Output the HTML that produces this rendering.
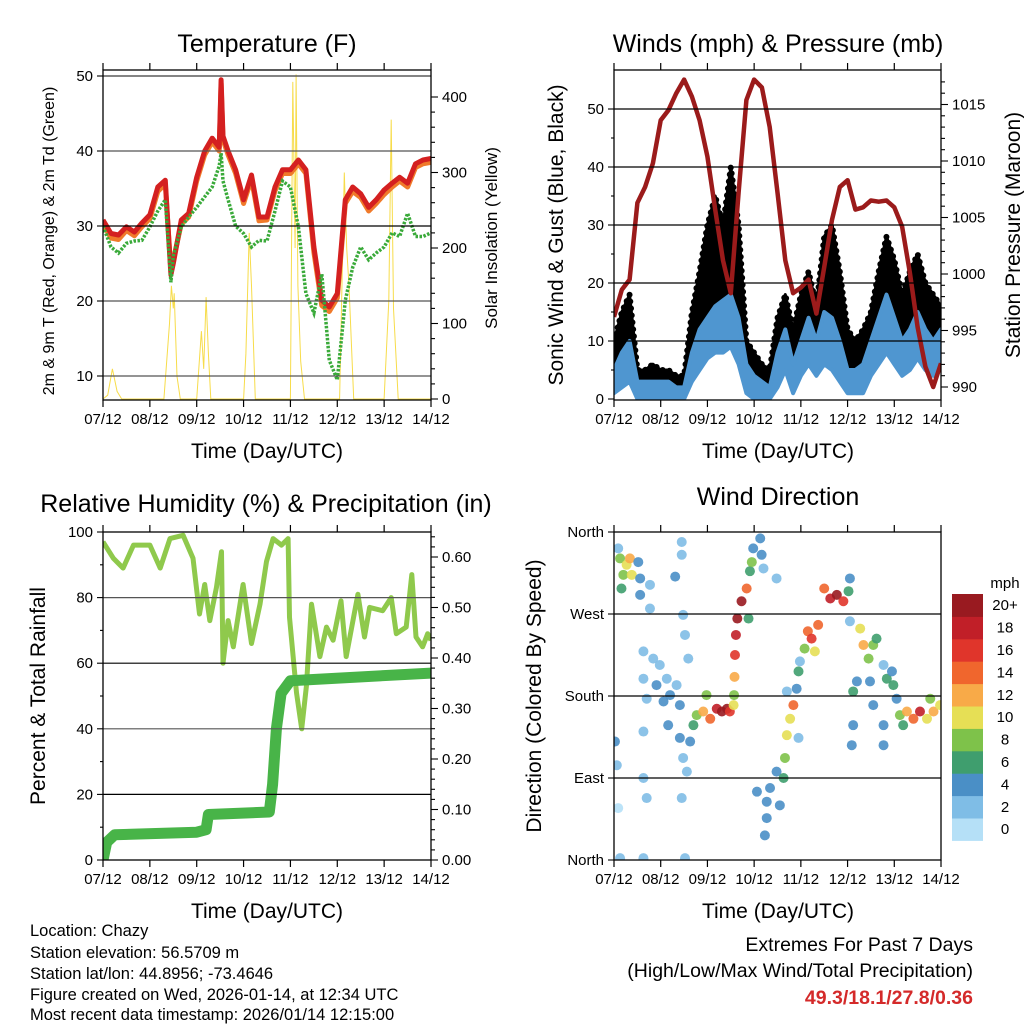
<!DOCTYPE html>
<html><head><meta charset="utf-8"><style>
html,body{margin:0;padding:0;background:#fff}
svg{display:block;font-family:"Liberation Sans",Arial,sans-serif}
</style></head><body>
<svg id="s" width="1024" height="1024" viewBox="0 0 1024 1024">
<defs>
<clipPath id="c1"><rect x="103" y="70" width="328" height="330"/></clipPath>
<clipPath id="c2"><rect x="614" y="70" width="327" height="330"/></clipPath>
<clipPath id="c3"><rect x="103" y="532" width="328" height="328"/></clipPath>
<clipPath id="c4"><rect x="614" y="532" width="327" height="328"/></clipPath>
</defs>
<g font-size="25" text-anchor="middle" fill="#000">
<text x="267" y="52">Temperature (F)</text>
<text x="778" y="52">Winds (mph) &amp; Pressure (mb)</text>
<text x="266" y="512">Relative Humidity (%) &amp; Precipitation (in)</text>
<text x="778" y="505">Wind Direction</text>
</g>
<g font-size="21" text-anchor="middle">
<text x="267" y="458">Time (Day/UTC)</text>
<text x="778" y="458">Time (Day/UTC)</text>
<text x="267" y="918">Time (Day/UTC)</text>
<text x="778" y="918">Time (Day/UTC)</text>
<text transform="translate(563,235) rotate(-90)">Sonic Wind &amp; Gust (Blue, Black)</text>
<text transform="translate(1020,235) rotate(-90)">Station Pressure (Maroon)</text>
<text transform="translate(45,696) rotate(-90)">Percent &amp; Total Rainfall</text>
<text transform="translate(541,696) rotate(-90)">Direction (Colored By Speed)</text>
</g>
<g text-anchor="middle">
<text transform="translate(54,241) rotate(-90)" font-size="16">2m &amp; 9m T (Red, Orange) &amp; 2m Td (Green)</text>
<text transform="translate(497,238) rotate(-90)" font-size="17">Solar Insolation (Yellow)</text>
</g>
<g font-size="16.5">
<text x="30" y="936">Location: Chazy</text>
<text x="30" y="958">Station elevation: 56.5709 m</text>
<text x="30" y="979">Station lat/lon: 44.8956; -73.4646</text>
<text x="30" y="1000">Figure created on Wed, 2026-01-14, at 12:34 UTC</text>
<text x="30" y="1020">Most recent data timestamp: 2026/01/14 12:15:00</text>
</g>
<g font-size="19.5" text-anchor="end">
<text x="973" y="951">Extremes For Past 7 Days</text>
<text x="973" y="977">(High/Low/Max Wind/Total Precipitation)</text>
<text x="973" y="1004" fill="#d42a2a" font-weight="bold">49.3/18.1/27.8/0.36</text>
</g>
<g id="layer"></g>
</svg>
<script>
// ---- data ----
const dayLabels = ["07/12","08/12","09/12","10/12","11/12","12/12","13/12","14/12"];
const tempT = [0,.17,.33,.5,.67,.83,1,1.17,1.33,1.45,1.5,1.67,1.83,2,2.17,2.33,2.48,2.52,2.56,2.67,2.83,3,3.17,3.33,3.5,3.67,3.83,4,4.17,4.33,4.5,4.67,4.83,5,5.17,5.33,5.5,5.67,5.83,6,6.17,6.33,6.5,6.67,6.83,7];
const temp2m = [30.8,29,28.8,29.9,29.2,30.4,31.5,35.2,36.1,23.5,25,30.8,31.7,36.5,40,41.7,40.5,49.5,42,40,37.5,33.5,36.8,31.2,31.2,35.2,37.5,37.5,38.8,37.5,27.2,20.1,19.2,21,33.5,35.2,34.3,32.5,33.5,34.8,35.7,36.5,35.7,38.3,38.8,39];
const temp9m = [30.3,28.4,28.2,29.4,28.7,29.9,31,34.6,35.6,24,25.5,30.3,31.2,36,39.5,41.2,40,49,41.5,39.5,37,33,36.3,30.7,30.8,34.7,37,37,38.3,37,26.5,19.4,18.6,20.4,33,34.6,33.8,32,33,34.2,35.2,36,35.2,37.8,38.3,38.5];
const dew2m = [30,27.2,26.4,27.7,28,28.1,29.9,32,33.5,22.5,26,29.9,31.2,32.5,33.9,35.2,38,39.7,36,33.5,30,29,27.2,28.1,28,32,36,35.2,29.9,21,18.4,23.6,12.1,9.5,20.1,24.5,27.2,25.5,26.4,27.2,29.1,28.6,31.7,28.6,28.6,29.1];
const solT = [0,0.1,0.2,0.3,0.4,1.3,1.42,1.46,1.5,1.52,1.58,1.65,2.0,2.1,2.15,2.2,2.25,2.3,3.0,3.05,3.12,3.17,3.25,4.0,4.05,4.1,4.12,4.16,4.22,4.3,5.05,5.15,5.2,5.25,5.35,6.0,6.1,6.15,6.2,6.3,7];
const solV = [0,5,40,10,0,0,100,150,120,140,30,0,0,90,40,135,60,0,0,60,220,150,0,0,420,200,430,150,50,0,0,300,200,150,0,0,130,370,120,0,0];
const windSteps = 42; // samples every 4 hours
const pressure = [996.2,998.6,999.5,1006.3,1007.7,1009.8,1013.6,1014.5,1016,1017.2,1015.7,1013.6,1010.4,1005.7,1001.2,998.3,1007.2,1015.4,1017.2,1016.5,1013,1007.2,1001.2,998.3,998.8,999.5,996.5,1000.6,1004.8,1007.7,1008.3,1005.7,1005.9,1006.5,1006.4,1006.5,1005.9,1004.2,1000.1,995.3,991.8,990,992.1];
const wind = [5,8,10,3,3,3,3,3,2,2,8,12,14,16,17,18,14,6,4,3,2,8,12,6,10,14,10,15,14,10,5,5,6,10,14,18,14,10,12,15,12,10,12];
const windMin = [1,2,3,0,0,0,0,0,0,0,3,5,7,8,8,9,6,1,0,0,0,2,5,1,4,6,4,6,5,3,1,1,1,4,6,8,6,4,5,7,5,4,6];
const gust = [10,15,18,5,5,6,5,5,4,4,15,22,30,35,30,40,30,10,8,6,5,14,18,12,18,22,16,28,30,22,12,10,12,15,22,28,24,18,22,25,20,18,16];
const rhT = [0,.22,.43,.65,1,1.22,1.43,1.71,1.92,2.06,2.17,2.28,2.42,2.53,2.56,2.67,2.78,2.99,3.17,3.35,3.49,3.63,3.81,3.95,3.98,4.13,4.24,4.34,4.45,4.63,4.77,4.91,5.08,5.19,5.44,5.58,5.69,5.97,6.15,6.26,6.47,6.59,6.68,6.82,6.93,7];
const rhV = [97,92,89,96,96,89,98,99,92,75,84,73,83,94,60,73,65,84,66,78,91,98,96,98,74,51,40,53,78,62,71,67,79,62,81,68,77,76,80,69,71,87,68,65,69,67];
const rainT = [0,0.08,0.25,2.0,2.2,2.25,3.55,3.62,3.7,3.8,4.0,7];
const rainV = [0,0.035,0.05,0.055,0.06,0.09,0.095,0.15,0.26,0.33,0.355,0.37];
const wdT = [.13,.2,.27,.34,.38,.16,.52,.56,.56,.09,.02,.06,.09,.13,.77,.77,.63,.63,.7,.63,.63,.7,.84,.91,.98,1.06,1.13,1.2,1.16,1.34,1.41,1.31,1.45,1.45,1.48,1.52,1.59,1.41,1.48,1.56,1.45,1.52,.63,1.63,1.7,1.77,1.91,1.98,2.06,2.2,2.31,2.42,2.48,2.56,2.57,2.58,2.59,2.61,2.64,2.73,2.84,2.88,2.91,2.95,2.98,3.13,3.16,3.2,3.48,3.06,3.27,3.27,3.23,3.34,3.48,3.55,3.63,3.66,3.7,3.77,3.84,3.91,3.95,3.98,3.95,4.08,4.15,4.23,4.37,4.3,4.5,4.63,4.77,4.91,5.02,5.05,5.05,5.12,5.12,5.09,5.2,5.27,5.34,5.45,5.55,5.62,5.48,5.77,5.84,5.95,5.98,6.05,5.77,5.77,5.55,6.12,6.27,6.41,6.55,6.7,6.84,6.98,6.77,6.19,3.7];
const wdDir = [331,313,324,331,313,298,327,309,291,342,130,104,57,2,302,276,229,199,177,141,90,68,221,192,214,174,199,181,148,192,170,311,349,335,269,247,221,134,112,97,68,2,2,130,148,159,163,181,155,166,163,166,163,170,181,201,225,247,265,284,298,265,317,327,342,353,335,320,309,75,64,46,27,79,97,60,90,112,137,155,170,188,207,218,134,232,251,243,258,229,298,287,291,284,295,309,262,185,148,126,196,254,236,221,236,243,196,214,199,207,192,177,148,126,170,159,163,155,163,155,163,170,177,148,185];
const wdSpd = [7,8,9,11,10,6,4,4,3,2,4,1,0,1,1,1,2,2,2,1,2,1,2,4,2,3,2,4,3,2,4,4,1,1,2,2,1,3,1,1,1,1,1,4,6,8,11,7,14,18,20,19,16,10,7,12,16,18,20,20,14,6,6,7,4,4,3,2,1,3,4,3,4,4,3,4,6,8,10,10,14,4,6,2,2,8,14,16,14,10,14,18,20,16,6,4,2,5,4,4,3,10,12,8,8,6,4,2,5,4,6,4,4,4,3,8,12,14,18,10,12,10,8,6,1];
const spdColors = ["#b5e0f7","#7fbde6","#4a8fc6","#3f9e6e","#7ec24a","#e6df55","#f8aa48","#f0662d","#e0352b","#c11f28","#991a20"];
const spdLabels = ["0","2","4","6","8","10","12","14","16","18","20+"];

// ---- helpers ----
const NS = "http://www.w3.org/2000/svg";
const layer = document.getElementById("layer");
function mk(tag, attrs, parent){
  const e = document.createElementNS(NS, tag);
  for (const k in attrs) e.setAttribute(k, attrs[k]);
  (parent || layer).appendChild(e);
  return e;
}
function txt(x,y,s,size,anchor,parent){
  const e = mk("text",{x:x,y:y,"font-size":size,"text-anchor":anchor},parent);
  e.textContent = s;
  return e;
}
function xs(x0,x1){ return t => x0 + t*(x1-x0)/7; }
function linePath(ts, vs, fx, fy){
  let d = "";
  for (let i=0;i<ts.length;i++) d += (i?"L":"M") + fx(ts[i]).toFixed(1) + " " + fy(vs[i]).toFixed(1);
  return d;
}
function bandPath(ts, hi, lo, fx, fy){
  let d = linePath(ts,hi,fx,fy);
  for (let i=ts.length-1;i>=0;i--) d += "L"+fx(ts[i]).toFixed(1)+" "+fy(lo[i]).toFixed(1);
  return d + "Z";
}
const windT = [];
for (let i=0;i<=windSteps;i++) windT.push(i*7/windSteps);

function frame(name,x0,y0,x1,y1){
  const r = mk("rect",{x:x0,y:y0,width:x1-x0,height:y1-y0,fill:"none",stroke:"#000","stroke-width":1.3});
  
  
  const fx = xs(x0,x1);
  for (let d=0; d<8; d++){
    const x = fx(d);
    const tk = mk("path",{d:`M${x} ${y1}v7M${x} ${y0}v-7`,stroke:"#000","stroke-width":1.2});
    
    
    const lb = txt(x, y1+24, dayLabels[d], 15, "middle");
    
    
  }
}
function grid(name,x0,x1,y,dark){
  const g = mk("line",{x1:x0,x2:x1,y1:y,y2:y,stroke:dark?"#000":"#555","stroke-width":1.2});
  
  
}
function ytick(name,x,y,lab,side,len){
  const t = mk("line",{x1:x,x2:x+(side<0?-len:len),y1:y,y2:y,stroke:"#000","stroke-width":1.1});
  
  
  if (lab!==null){
    const l = txt(side<0 ? x-10 : x+11, y+5, lab, 15, side<0?"end":"start");
    
    
  }
}

// ---- Panel 1: temperature ----
(function(){
  const x0=103,x1=431,y0=70,y1=400, fx=xs(x0,x1);
  const fy = v => 376 - (v-10)*7.5;
  const fs = v => 399 - v*0.755;
  const g = mk("g",{"clip-path":"url(#c1)"});
  
  
  [10,20,30,40,50].forEach(v=>grid("temperature",x0,x1,fy(v),v===30));
  const sl = mk("path",{d:linePath(solT,solV,fx,fs),fill:"none",stroke:"#f7dc4a","stroke-width":1},g);
  
  
  const o = mk("path",{d:linePath(tempT,temp9m,fx,fy),fill:"none",stroke:"#f07a2a","stroke-width":5,"stroke-linejoin":"round"},g);
  
  
  const r = mk("path",{d:linePath(tempT,temp2m,fx,fy),fill:"none",stroke:"#d42020","stroke-width":5,"stroke-linejoin":"round"},g);
  
  
  const d = mk("path",{d:linePath(tempT,dew2m,fx,fy),fill:"none",stroke:"#3aaa3a","stroke-width":3.5,"stroke-dasharray":"2.5 1.5"},g);
  
  
  grid("temperature-top",x0,x1,fy(50),false);
  frame("temperature",x0,y0,x1,y1);
  for (let v=10; v<=50; v+=10) ytick("temperature",x0,fy(v),String(v),-1,6);
  for (let v=0; v<=400; v+=20) ytick("solar",x1,fs(v),v%100===0?String(v):null,1,v%100===0?7:4);
})();

// ---- Panel 2: winds & pressure ----
(function(){
  const x0=614,x1=941,y0=70,y1=400, fx=xs(x0,x1);
  const fw = v => 399 - v*5.8;
  const fp = p => 387 - (p-990)*11.3;
  const g = mk("g",{"clip-path":"url(#c2)"});
  
  
  [10,20,30,40,50].forEach(v=>grid("winds",x0,x1,fw(v),true));
  const ga = mk("path",{d:bandPath(windT,gust,windMin,fx,fw),fill:"#000",stroke:"#000","stroke-width":3,"stroke-linejoin":"round"},g);
  
  
  const gd = mk("path",{d:linePath(windT,gust,fx,fw),fill:"none",stroke:"#000","stroke-width":6,"stroke-linecap":"round","stroke-dasharray":"0 7"},g);
  
  
  const wf = mk("path",{d:bandPath(windT,wind,windMin,fx,fw),fill:"#4f96d0",stroke:"#4f96d0","stroke-width":4,"stroke-linejoin":"round"},g);
  
  
  const pl = mk("path",{d:linePath(windT,pressure,fx,fp),fill:"none",stroke:"#9b1b1b","stroke-width":4.5,"stroke-linejoin":"round"},g);
  
  
  frame("winds",x0,y0,x1,y1);
  for (let v=0; v<=50; v+=5) ytick("wind",x0,fw(v),v%10===0?String(v):null,-1,v%10===0?6:3);
  for (let p=990; p<=1017; p++) ytick("pressure",x1,fp(p),p%5===0?String(p):null,1,p%5===0?7:4);
})();

// ---- Panel 3: humidity & precipitation ----
(function(){
  const x0=103,x1=431,y0=532,y1=860, fx=xs(x0,x1);
  const fh = v => 860 - v*3.28;
  const fr = v => 860 - v*505;
  const g = mk("g",{"clip-path":"url(#c3)"});
  
  
  [20,40,60,80].forEach(v=>grid("humidity",x0,x1,fh(v),v===60||v===20));
  const rh = mk("path",{d:linePath(rhT,rhV,fx,fh),fill:"none",stroke:"#8fc94c","stroke-width":5,"stroke-linejoin":"round"},g);
  
  
  const rn = mk("path",{d:linePath(rainT,rainV,fx,fr),fill:"none",stroke:"#48b448","stroke-width":11,"stroke-linejoin":"round","stroke-linecap":"round"},g);
  
  
  frame("humidity",x0,y0,x1,y1);
  for (let v=0; v<=100; v+=10) ytick("humidity",x0,fh(v),v%20===0?String(v):null,-1,v%20===0?6:3);
  for (let i=0; i<=32; i++){ const v=i*0.02; ytick("rainfall",x1,fr(v),i%5===0?v.toFixed(2):null,1,i%5===0?7:4); }
})();

// ---- Panel 4: wind direction ----
(function(){
  const x0=614,x1=941,y0=532,y1=860, fx=xs(x0,x1);
  const fd = v => 860 - v*328/360;
  const g = mk("g",{"clip-path":"url(#c4)"});
  
  
  [90,180,270].forEach(v=>grid("direction",x0,x1,fd(v),true));
  for (let i=0;i<wdT.length;i++){
    const ci = Math.min(10, Math.round(wdSpd[i]/2));
    const c = mk("circle",{cx:fx(wdT[i]),cy:fd(wdDir[i]),r:5,fill:spdColors[ci],"fill-opacity":0.9},g);
    
    
  }
  frame("direction",x0,y0,x1,y1);
  const dl = ["North","East","South","West","North"];
  for (let i=0;i<5;i++) ytick("direction",x0,fd(i*90),dl[i],-1,6);
  const cbx=952, cbw=31, top=594, h=22.4;
  const ml = txt(1005, 588, "mph", 15, "middle");
  
  
  for (let k=0;k<11;k++){
    const y = top + (10-k)*h;
    const b = mk("rect",{x:cbx,y:y,width:cbw,height:h+0.5,fill:spdColors[k]});
    
    
    const l = txt(1005, y+h/2+5, spdLabels[k], 15, "middle");
    
    
  }
})();
</script>
</body></html>
